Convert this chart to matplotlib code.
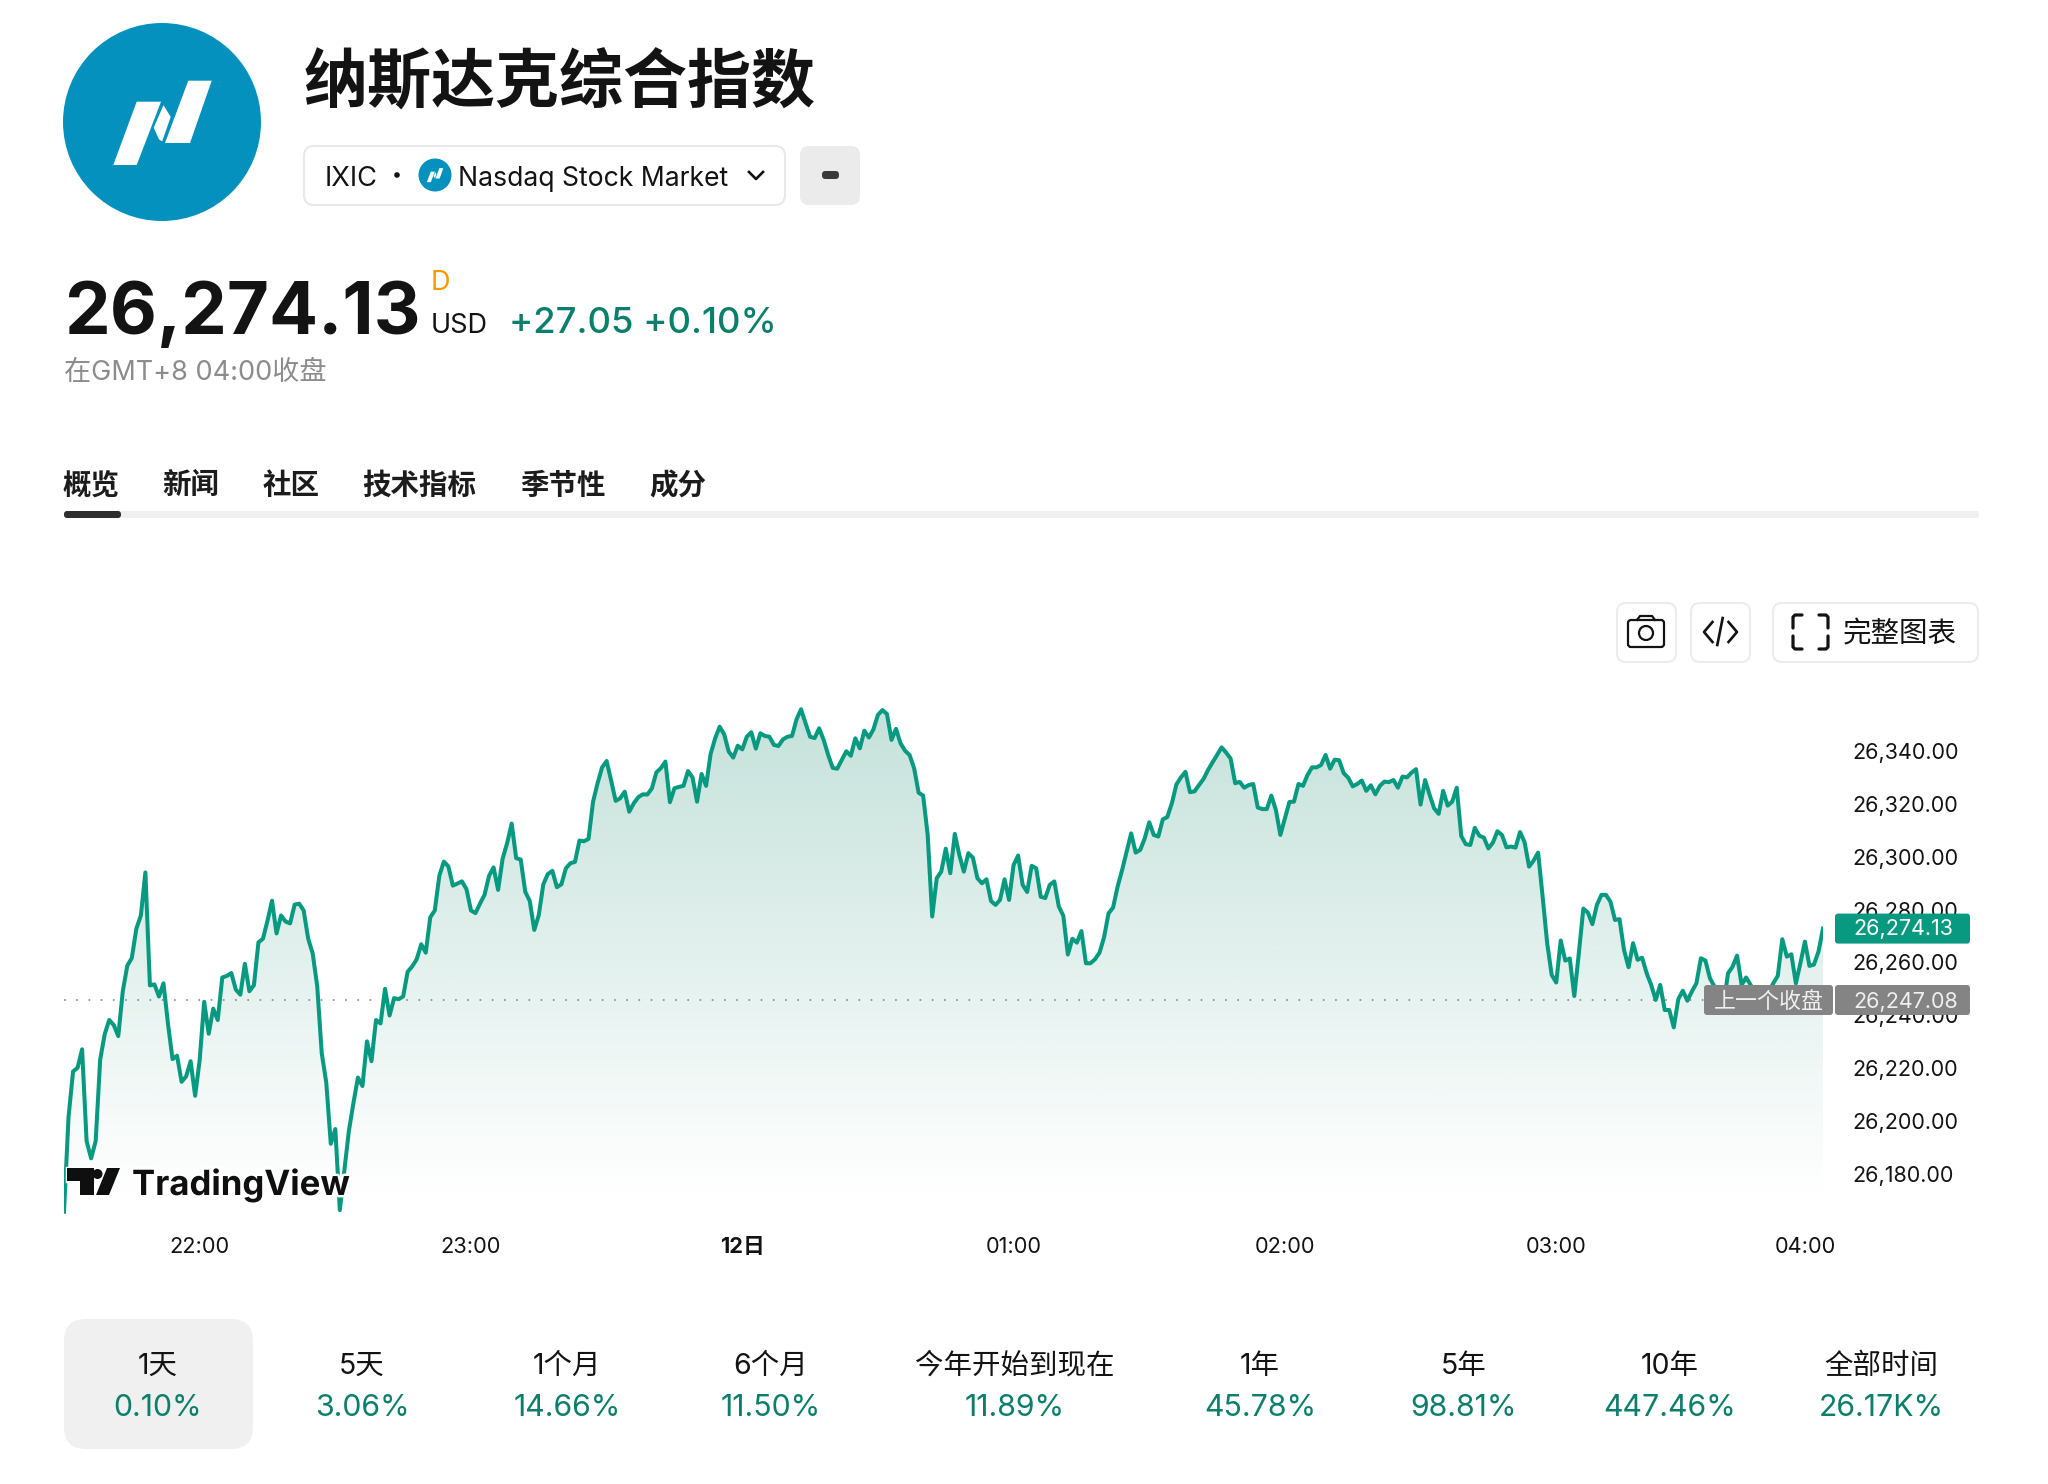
import numpy as np
import matplotlib
matplotlib.use('Agg')
import matplotlib.pyplot as plt
import matplotlib.patheffects as pe
from matplotlib.patches import Circle, FancyBboxPatch, Polygon
from matplotlib.colors import LinearSegmentedColormap
from matplotlib.transforms import ScaledTranslation

precios = [
    26166.9, 26202.7, 26220.0, 26221.4, 26228.4, 26193.6, 26187.1, 26193.6, 26224.5, 26234.1,
    26239.5, 26237.6, 26233.4, 26250.4, 26260.1, 26263.0, 26274.1, 26279.1, 26295.4, 26252.6,
    26253.0, 26248.4, 26253.4, 26238.0, 26224.7, 26226.0, 26216.1, 26218.1, 26223.9, 26210.8,
    26224.3, 26246.4, 26234.3, 26243.8, 26239.5, 26255.6, 26256.2, 26257.3, 26251.0, 26249.1,
    26260.8, 26250.4, 26252.7, 26268.9, 26270.3, 26277.1, 26284.7, 26272.3, 26279.1, 26276.8,
    26276.1, 26283.2, 26283.6, 26281.0, 26270.3, 26264.7, 26252.3, 26226.9, 26215.8, 26192.6,
    26198.2, 26167.5, 26182.5, 26197.5, 26208.0, 26217.7, 26214.5, 26231.4, 26223.9, 26239.5,
    26238.2, 26251.3, 26241.2, 26247.8, 26247.4, 26248.4, 26257.8, 26259.8, 26262.5, 26268.2,
    26265.0, 26278.4, 26281.0, 26294.1, 26299.5, 26297.7, 26290.4, 26291.2, 26292.0, 26289.1,
    26281.0, 26280.0, 26283.6, 26286.9, 26294.1, 26297.3, 26288.8, 26300.6, 26306.5, 26313.9,
    26300.8, 26300.3, 26288.1, 26284.6, 26273.6, 26279.3, 26290.9, 26294.8, 26296.0, 26289.8,
    26290.9, 26297.0, 26298.9, 26299.4, 26307.5, 26307.2, 26308.1, 26322.2, 26329.2, 26335.2,
    26337.6, 26330.2, 26322.5, 26323.5, 26326.0, 26318.4, 26321.6, 26323.9, 26325.0, 26324.9,
    26327.2, 26333.3, 26334.9, 26337.4, 26322.0, 26327.3, 26327.8, 26328.2, 26333.8, 26331.4,
    26322.2, 26332.7, 26328.2, 26340.3, 26346.2, 26350.6, 26347.7, 26341.2, 26338.9, 26343.4,
    26342.0, 26346.8, 26348.5, 26342.3, 26348.1, 26347.1, 26346.8, 26343.7, 26343.3, 26345.8,
    26346.8, 26347.1, 26353.4, 26357.2, 26351.9, 26346.8, 26346.3, 26350.0, 26345.6, 26339.9,
    26335.0, 26334.7, 26338.0, 26341.3, 26339.6, 26346.2, 26342.4, 26349.1, 26346.5, 26349.6,
    26355.1, 26356.9, 26355.4, 26345.6, 26349.8, 26344.3, 26341.5, 26339.9, 26334.9, 26325.6,
    26324.5, 26309.6, 26278.7, 26293.2, 26295.7, 26304.4, 26295.1, 26310.0, 26302.0, 26295.7,
    26302.7, 26301.0, 26293.2, 26291.3, 26292.8, 26284.6, 26283.1, 26285.0, 26292.8, 26285.0,
    26298.2, 26301.8, 26290.7, 26288.0, 26297.9, 26297.0, 26286.2, 26285.7, 26290.7, 26292.0,
    26282.5, 26279.0, 26264.3, 26270.3, 26268.8, 26273.2, 26261.0, 26261.0, 26262.5, 26265.0,
    26270.8, 26279.9, 26282.1, 26290.0, 26296.3, 26303.3, 26310.2, 26302.9, 26303.9, 26308.3,
    26314.4, 26309.6, 26309.0, 26315.5, 26316.4, 26321.6, 26328.7, 26331.4, 26333.5, 26325.8,
    26326.1, 26328.5, 26330.8, 26334.2, 26337.1, 26339.9, 26342.8, 26340.8, 26338.5, 26329.2,
    26329.7, 26327.5, 26328.5, 26328.9, 26320.0, 26319.4, 26319.4, 26324.5, 26319.1, 26309.6,
    26315.9, 26322.1, 26322.2, 26328.9, 26328.2, 26332.3, 26335.2, 26335.2, 26336.1, 26339.9,
    26334.7, 26338.1, 26337.9, 26333.0, 26331.3, 26328.0, 26328.9, 26330.2, 26326.3, 26328.4,
    26325.0, 26328.2, 26329.8, 26329.6, 26330.4, 26327.5, 26331.7, 26331.4, 26333.2, 26334.5,
    26321.1, 26330.4, 26324.8, 26319.7, 26317.6, 26326.3, 26320.7, 26322.2, 26327.5, 26309.2,
    26306.1, 26305.8, 26312.3, 26309.3, 26308.6, 26304.5, 26306.7, 26311.0, 26309.6, 26304.9,
    26305.2, 26304.8, 26310.7, 26306.9, 26297.6, 26299.9, 26302.9, 26286.2, 26268.6, 26256.6,
    26253.7, 26269.6, 26262.0, 26262.8, 26248.6, 26264.8, 26281.7, 26280.2, 26275.8, 26283.1,
    26286.9, 26286.9, 26284.3, 26277.4, 26277.7, 26266.0, 26259.5, 26268.6, 26262.3, 26263.1,
    26257.2, 26252.8, 26247.1, 26252.8, 26243.3, 26243.3, 26236.7, 26247.4, 26250.6, 26246.8,
    26250.3, 26253.4, 26262.9, 26262.0, 26255.3, 26252.2, 26247.1, 26245.2, 26257.2, 26259.7,
    26263.9, 26252.8, 26255.6, 26252.8, 26249.0, 26247.1, 26247.1, 26250.3, 26253.4, 26256.2,
    26270.1, 26263.5, 26264.4, 26253.4, 26261.0, 26269.2, 26260.0, 26260.5, 26265.4, 26274.13,
]
cierre_previo = 26247.08
precio_ticks = [26340, 26320, 26300, 26280, 26260, 26240, 26220, 26200, 26180]
hora_ticks = [30, 90, 150, 210, 270, 330, 385]
hora_labels = ['22:00', '23:00', '12日', '01:00', '02:00', '03:00', '04:00']
pestanas = ['概览', '新闻', '社区', '技术指标', '季节性', '成分']
periodos = ['1天', '5天', '1个月', '6个月', '今年开始到现在', '1年', '5年', '10年', '全部时间']
cambios = ['0.10%', '3.06%', '14.66%', '11.50%', '11.89%', '45.78%', '98.81%', '447.46%', '26.17K%']

W, H = 2048, 1484
VERDE = '#089981'
VERDE_TXT = '#0b7f6b'
NEGRO = '#131313'
plt.rcParams['font.family'] = ['Inter', 'Noto Sans CJK SC', 'DejaVu Sans']


def px_y(valor):
    return 1000 - (valor - cierre_previo) * 2.64


def valor_y(y):
    return cierre_previo + (1000 - y) / 2.64


fig = plt.figure(figsize=(W / 100, H / 100), dpi=100, facecolor='white')

# grafico de precios
x0, x1, y0, y1 = 64, 1823, 690, 1215
ax = fig.add_axes([x0 / W, 1 - y1 / H, (x1 - x0) / W, (y1 - y0) / H])
ax.patch.set_alpha(0)
xs = np.arange(len(precios))

base = (8 / 255, 128 / 255, 100 / 255)
mapa = LinearSegmentedColormap.from_list('relleno', [base + (0.235,), base + (0.0,)])
grad = ax.imshow(np.linspace(0, 1, 256).reshape(-1, 1), cmap=mapa, aspect='auto',
                 extent=[0, len(precios) - 1, valor_y(1200), valor_y(708)], zorder=1)
relleno = ax.fill_between(xs, precios, valor_y(1200), color='none')
grad.set_clip_path(relleno.get_paths()[0], ax.transData)
ax.set_xlim(0, len(precios) - 1)
ax.set_ylim(valor_y(y1), valor_y(y0))

ax.axhline(cierre_previo, color='#7d7d7d', lw=1.1, linestyle=(0, (1.1, 6.9)), zorder=2)
ax.plot(xs, precios, color=VERDE, lw=2.9, solid_joinstyle='round', zorder=3)

for s in ax.spines.values():
    s.set_visible(False)
ax.yaxis.tick_right()
ax.set_yticks(precio_ticks)
ax.set_yticklabels([f'{p:,.2f}' for p in precio_ticks], fontsize=15.5, color=NEGRO)
ax.tick_params(axis='y', length=0, pad=21)
ax.set_xticks(hora_ticks)
ax.set_xticklabels(hora_labels, fontsize=15.7, color=NEGRO)
ax.tick_params(axis='x', length=0, pad=16)
ax.get_xticklabels()[2].set_fontweight('bold')
subir = ScaledTranslation(0, 3.5 / 100, fig.dpi_scale_trans)
for lab in ax.get_yticklabels():
    lab.set_transform(lab.get_transform() + subir)

# capa de interfaz en pixeles
ui = fig.add_axes([0, 0, 1, 1], zorder=5)
ui.set_xlim(0, W)
ui.set_ylim(H, 0)
ui.axis('off')
ui.patch.set_alpha(0)


def caja(x, y, w, h, r, fc, ec='none', lw=1.5, z=2):
    ui.add_patch(FancyBboxPatch((x + r, y + r), w - 2 * r, h - 2 * r, boxstyle=f'round,pad={r}',
                                fc=fc, ec=ec, lw=lw, zorder=z))


def texto(x, y, s, size, color=NEGRO, weight='normal', ha='left', z=4):
    return ui.text(x, y, s, fontsize=size, color=color, fontweight=weight, ha=ha, va='center_baseline', zorder=z)


def logo(cx, cy, r):
    ui.add_patch(Circle((cx, cy), r, fc='#0591be', ec='none', zorder=3))
    e = r / 99
    izq = [(-48.7, 43), (-25.3, 43), (-1, -20.3), (-25.3, -20.3)]
    der = [(26.3, -41.3), (49.7, -41.3), (28, 21), (3, 21)]
    medio = [(1.3, -18.7), (9.7, -5.3), (0.7, 20.7), (-3.7, 18), (-9.3, 5.7)]
    for forma in (izq, der):
        ui.add_patch(Polygon([(cx + a * e, cy + b * e) for a, b in forma], fc='white', ec='none', zorder=4))
    ui.add_patch(Polygon([(cx + a * e, cy + b * e) for a, b in medio], fc='white', ec='#0591be', lw=1.3 * e, zorder=5))


# cabecera
logo(162, 122, 99)
texto(304, 78, '纳斯达克综合指数', 46.1, weight='bold')
caja(304, 146, 481, 59, 10, 'white', '#e8e8e8')
texto(325, 176, 'IXIC', 19.6)
ui.add_patch(Circle((397, 175), 2.8, fc=NEGRO, ec='none', zorder=4))
logo(435, 175, 16.5)
texto(458, 176, 'Nasdaq Stock Market', 19.1)
ui.plot([749, 756, 763], [172, 179, 172], color=NEGRO, lw=1.9, zorder=4)
caja(800, 146, 60, 59, 9, '#ebebeb')
caja(822, 171, 17, 8, 3.5, '#3a3a3a', z=4)

texto(64, 308, '26,274.13', 52.3, weight='bold')
texto(431, 280, 'D', 19.5, color='#ff9800')
texto(431, 323, 'USD', 19.5)
texto(509, 320, '+27.05 +0.10%', 26.2, color=VERDE_TXT, weight='medium')
texto(64, 370, '在GMT+8 04:00收盘', 19.5, color='#8c8c8c')

# pestanas
ui.add_patch(FancyBboxPatch((66, 513), 1911, 3, boxstyle='round,pad=2', fc='#f0f0f0', ec='none', zorder=2))
caja(64, 511, 57, 7, 3, '#2e2e2e', z=3)
for x, s in zip([63, 162, 263, 362, 520, 649], pestanas):
    texto(x, 483, s, 20.5, weight='bold', color='#1c1c1c')

# botones del grafico
caja(1617, 603, 59, 59, 9, 'white', '#ececec')
caja(1691, 603, 59, 59, 9, 'white', '#ececec')
caja(1773, 603, 205, 59, 9, 'white', '#ececec')
caja(1628, 620, 36, 27, 3, 'white', NEGRO, lw=1.6, z=3)
ui.plot([1637, 1640, 1652, 1655], [620, 616, 616, 620], color=NEGRO, lw=1.6, zorder=4)
ui.add_patch(Circle((1646, 633), 7, fc='white', ec=NEGRO, lw=1.6, zorder=4))
ui.plot([1712.5, 1704, 1712.5], [622, 632, 642], color=NEGRO, lw=1.9, zorder=4)
ui.plot([1728.5, 1737, 1728.5], [622, 632, 642], color=NEGRO, lw=1.9, zorder=4)
ui.plot([1722.7, 1717.3], [618, 645], color=NEGRO, lw=1.9, zorder=4)
for cx, cy, a, b in [(1793, 615, 1, 1), (1828, 615, -1, 1), (1793, 649, 1, -1), (1828, 649, -1, -1)]:
    ui.plot([cx + a * 9, cx + a * 2, cx, cx], [cy, cy, cy + b * 2, cy + b * 13],
            color=NEGRO, lw=2.3, zorder=4, solid_capstyle='round')
texto(1843, 632, '完整图表', 20.5)

# etiquetas de precio
yv = px_y(precios[-1])
ya = px_y(cierre_previo)
caja(1835, yv - 15, 135, 30, 3, VERDE, z=3)
texto(1853, yv - 1.5, f'{precios[-1]:,.2f}', 15.5, color='white')
caja(1704, ya - 15, 129, 30, 3, '#848484', z=3)
caja(1835, ya - 15, 135, 30, 3, '#848484', z=3)
texto(1714, ya, '上一个收盘', 15.8, color='#f0f0f0')
texto(1853, ya - 0.5, f'{cierre_previo:,.2f}', 15.5, color='#f0f0f0')

# marca TradingView
halo = [pe.withStroke(linewidth=3.5, foreground='white')]
for forma in ([(67, 1168), (94, 1168), (94, 1195), (80, 1195), (80, 1181), (67, 1181)],
              [(120, 1168), (109, 1195), (96, 1195), (107, 1168)]):
    ui.add_patch(Polygon(forma, fc='#0f0f0f', ec='white', lw=2.5, zorder=4))
    ui.add_patch(Polygon(forma, fc='#0f0f0f', ec='none', zorder=5))
ui.add_patch(Circle((97.5, 1174), 5, fc='#0f0f0f', ec='none', zorder=5))
t = texto(132, 1182, 'TradingView', 25, color='#0f0f0f', weight='bold', z=5)
t.set_path_effects(halo)

# periodos inferiores
caja(64, 1319, 189, 130, 22, '#f0f0f0')
for x, p, c in zip([158, 362, 567, 771, 1015, 1260, 1464, 1670, 1881], periodos, cambios):
    texto(x, 1363, p, 20.5, ha='center')
    texto(x, 1405, c, 21.8, color=VERDE_TXT, ha='center')

plt.savefig('out.png', dpi=100)
